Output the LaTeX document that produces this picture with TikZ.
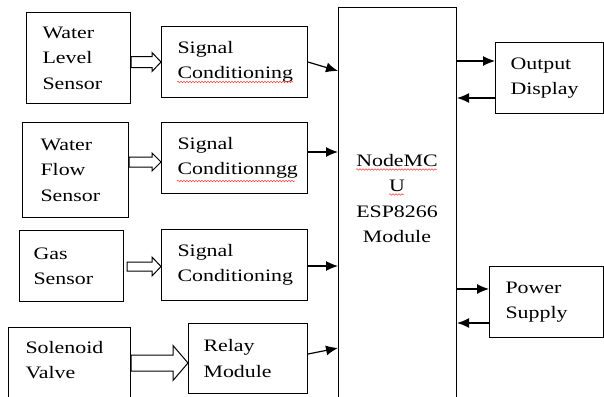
\documentclass[tikz,border=0pt]{standalone}
\usepackage{fontspec}
\setmainfont{Liberation Serif}[FakeStretch=1.25]
\usetikzlibrary{arrows.meta,calc,decorations.pathmorphing}
\begin{document}
\begin{tikzpicture}[x=1pt,y=-1pt,
  txt/.style={font=\fontsize{17.5}{25.5}\selectfont},
  blk/.style={draw, line width=1.1pt, anchor=north west, align=left, inner ysep=0pt, txt,
              execute at begin node={\hfuzz=30pt}},
  arr/.style={line width=1.2pt, -{Latex[length=12pt,width=10pt]}},
  hollow/.style={draw, line width=1pt, fill=white, line join=miter},
  squig/.style={draw=red!75, line width=0.5pt, decorate,
                decoration={snake, amplitude=0.8pt, segment length=3pt}}]
\clip (0,0) rectangle (604,396);
\fill[white] (0,0) rectangle (604,396);

% left column
\node[blk, inner xsep=16pt, text width=72pt, minimum height=91pt] (wls) at (26,12) {Water\\Level\\Sensor};
\node[blk, inner xsep=18pt, text width=70pt, minimum height=95pt] (wfs) at (22,122) {Water\\Flow\\Sensor};
\node[blk, inner xsep=14pt, text width=76pt, minimum height=71pt] (gas) at (19,230) {Gas\\Sensor};
\node[blk, inner xsep=17pt, text width=88pt, minimum height=90pt] (sol) at (8,327) {Solenoid\\Valve\\\mbox{}};

% middle column
\node[blk, inner xsep=16pt, text width=114pt, minimum height=71pt] (sc1) at (161,26) {Signal\\Conditioning};
\node[blk, inner xsep=16pt, text width=114pt, minimum height=71pt] (sc2) at (161,122) {Signal\\Conditionngg};
\node[blk, inner xsep=16pt, text width=114pt, minimum height=71pt] (sc3) at (161,229) {Signal\\Conditioning};
\node[blk, inner xsep=15pt, text width=89pt, minimum height=70pt] (rel) at (188,323) {Relay\\Module};

% controller
\node[blk, minimum width=118pt, minimum height=413pt, inner sep=0pt] (mcu) at (338,7) {};
\node[txt, align=center, inner sep=0pt] (mcutext) at (397,198.5) {NodeMC\\U\\ESP8266\\Module};

% right column
\node[blk, inner xsep=15pt, text width=78pt, minimum height=71pt] (od) at (495,42) {Output\\Display};
\node[blk, inner xsep=16pt, text width=82pt, minimum height=71pt] (ps) at (489,266) {Power\\Supply};

% hollow arrows
\draw[hollow] (wls.east |- 0,56.5) -- (152,56.5) -- (152,52.5) -- (sc1.west |- 0,62)
  -- (152,71.5) -- (152,67.5) -- (wls.east |- 0,67.5) -- cycle;
\draw[hollow] (wfs.east |- 0,157) -- (152,157) -- (152,153) -- (sc2.west |- 0,162)
  -- (152,171) -- (152,167) -- (wfs.east |- 0,167) -- cycle;
\draw[hollow] (127,262) -- (152,262) -- (152,257) -- (sc3.west |- 0,266.5)
  -- (152,276) -- (152,271) -- (127,271) -- cycle;
\draw[hollow] (sol.east |- 0,355) -- (173,355) -- (173,345.5) -- (rel.west |- 0,363)
  -- (173,380.5) -- (173,371) -- (sol.east |- 0,371) -- cycle;

% solid arrows
\draw[arr] (sc1.east) -- (mcu.west |- 0,71);
\draw[arr] (sc2.east |- 0,152) -- (mcu.west |- 0,152);
\draw[arr] (sc3.east |- 0,266) -- (mcu.west |- 0,266);
\draw[arr] (rel.east |- 0,354) -- (mcu.west |- 0,348);
\draw[arr] (mcu.east |- 0,61) -- (od.west |- 0,61);
\draw[arr] (od.west |- 0,98) -- (mcu.east |- 0,98);
\draw[arr] (mcu.east |- 0,289) -- (ps.west |- 0,289);
\draw[arr] (ps.west |- 0,323) -- (mcu.east |- 0,323);

% spell-check underlines
\draw[squig] (177,82) -- (293,82);
\draw[squig] (177,181) -- (295,181);
\draw[squig] (356,169.5) -- (437,169.5);
\draw[squig] (389,194.5) -- (404,194.5);
\end{tikzpicture}
\end{document}
